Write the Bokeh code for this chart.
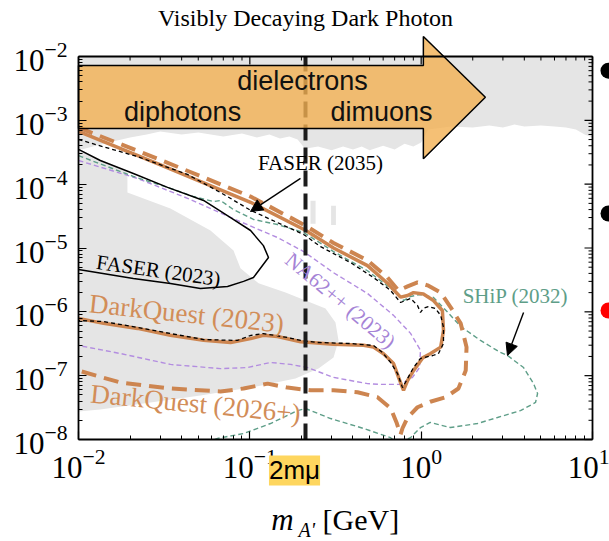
import math
from bokeh.plotting import figure
from bokeh.models import Range1d, Label, Arrow, NormalHead, FixedTicker
from bokeh.embed import file_html
from bokeh.resources import INLINE
from bokeh.core.properties import value

# ---------------- data (m_A' in GeV, epsilon) ----------------
dq23_m = [0.01, 0.0301, 0.101, 0.211, 0.308, 0.486, 0.636, 0.758, 0.833, 0.902, 1.03, 1.18, 1.33, 1.35, 1.30,
          1.13, 1.02, 0.902, 0.833, 0.789, 0.738, 0.690, 0.603, 0.527, 0.461, 0.308, 0.198, 0.145, 0.120, 0.101,
          0.0772, 0.0537, 0.0344, 0.0221, 0.0140, 0.01]
dq23_e = [6.7e-4, 2.0e-4, 5.2e-5, 1.9e-5, 1.0e-5, 5.3e-6, 2.8e-6, 1.7e-6, 1.8e-6, 2.0e-6, 1.9e-6, 1.5e-6, 1.05e-6,
          5.1e-7, 2.8e-7, 2.2e-7, 1.9e-7, 1.2e-7, 8.4e-8, 5.9e-8, 9.4e-8, 1.55e-7, 2.2e-7, 2.8e-7, 3.0e-7, 3.1e-7,
          3.4e-7, 4.1e-7, 4.3e-7, 3.8e-7, 3.3e-7, 3.6e-7, 4.3e-7, 5.5e-7, 6.6e-7, 7.9e-7]

dq26_m = [0.01, 0.0301, 0.101, 0.211, 0.308, 0.486, 0.636, 0.738, 0.833, 0.952, 1.09, 1.30, 1.48, 1.70, 1.84,
          1.82, 1.65, 1.39, 1.13, 0.952, 0.833, 0.778, 0.758, 0.718, 0.663, 0.556, 0.425, 0.308, 0.226, 0.166,
          0.127, 0.0919, 0.0674, 0.0344, 0.0176, 0.01]
dq26_e = [7.7e-4, 2.4e-4, 6.4e-5, 2.25e-5, 1.2e-5, 6.4e-6, 3.45e-6, 2.16e-6, 2.5e-6, 2.9e-6, 2.6e-6, 2.0e-6,
          1.2e-6, 6.6e-7, 2.8e-7, 1.2e-7, 6.3e-8, 4.6e-8, 3.9e-8, 3.2e-8, 2.2e-8, 1.5e-8, 1.2e-8, 1.85e-8,
          3.1e-8, 4.6e-8, 5.5e-8, 5.9e-8, 5.9e-8, 6.5e-8, 7.5e-8, 6.3e-8, 5.65e-8, 6.3e-8, 7.8e-8, 1.2e-7]

faser35_m = [0.01, 0.0221, 0.0433, 0.0674, 0.101, 0.145, 0.206, 0.259, 0.387, 0.527, 0.663, 0.758, 0.867, 0.952,
             0.991, 1.03, 1.10, 1.21, 1.30, 1.35, 1.35, 1.26, 1.17, 0.991, 0.902, 0.833, 0.778, 0.728, 0.663,
             0.595, 0.527, 0.387, 0.248, 0.198, 0.166, 0.120, 0.101, 0.0847, 0.0537, 0.0344, 0.0221, 0.0140, 0.01]
faser35_e = [5.0e-4, 2.7e-4, 1.42e-4, 7.4e-5, 3.9e-5, 2.5e-5, 1.63e-5, 1.05e-5, 5.9e-6, 3.45e-6, 2.16e-6,
             1.40e-6, 1.62e-6, 1.26e-6, 9.8e-7, 1.13e-6, 1.21e-6, 1.13e-6, 8.8e-7, 5.7e-7, 3.2e-7, 2.2e-7,
             2.07e-7, 1.86e-7, 1.34e-7, 9.0e-8, 6.5e-8, 1.08e-7, 1.61e-7, 2.3e-7, 2.97e-7, 3.19e-7, 3.31e-7,
             3.56e-7, 3.96e-7, 4.57e-7, 4.26e-7, 3.56e-7, 3.68e-7, 4.57e-7, 5.7e-7, 7.05e-7, 7.3e-7]

# SHiP contour (it dips below epsilon = 1e-8, so it is split at the lower edge)
ship_m = [0.01, 0.0209, 0.0331, 0.0469, 0.0614, 0.0674, 0.0803, 0.105, 0.145, 0.206, 0.308, 0.486, 0.690, 0.789,
          0.867, 0.991, 1.18, 1.43, 1.70, 2.22, 2.90, 3.19, 3.96, 4.53, 4.78, 4.65, 3.80, 2.79, 2.13, 1.48, 1.13,
          0.991, 0.867, 0.82]
ship_e = [2.8e-4, 1.32e-4, 8.9e-5, 6.4e-5, 5.35e-5, 5.55e-5, 4.0e-5, 2.8e-5, 2.33e-5, 1.75e-5, 8.8e-6, 4.4e-6,
          2.16e-6, 1.50e-6, 1.74e-6, 1.87e-6, 1.68e-6, 9.8e-7, 5.9e-7, 3.56e-7, 2.31e-7, 2.07e-7, 1.34e-7, 7.5e-8,
          5.25e-8, 3.8e-8, 2.84e-8, 2.21e-8, 1.78e-8, 1.54e-8, 1.85e-8, 1.54e-8, 1.07e-8, 1.0e-8]
ship_low_m = [0.68, 0.663, 0.461, 0.296, 0.211, 0.190, 0.132, 0.0919, 0.0648, 0.062]
ship_low_e = [1.0e-8, 1.07e-8, 1.49e-8, 2.13e-8, 3.06e-8, 2.84e-8, 1.78e-8, 1.24e-8, 1.04e-8, 1.0e-8]

na62_m = [0.01, 0.0221, 0.0433, 0.0847, 0.145, 0.206, 0.308, 0.486, 0.690, 0.867, 0.991, 0.978, 0.890, 0.758,
          0.579, 0.486, 0.308, 0.217, 0.173, 0.132, 0.0969, 0.0674, 0.0344, 0.0176, 0.01]
na62_e = [2.35e-4, 1.23e-4, 6.0e-5, 2.7e-5, 1.46e-5, 8.8e-6, 4.1e-6, 1.94e-6, 8.8e-7, 4.6e-7, 2.5e-7, 1.34e-7,
          9.4e-8, 7.3e-8, 7.3e-8, 7.5e-8, 9.4e-8, 1.34e-7, 1.50e-7, 1.61e-7, 1.34e-7, 1.29e-7, 1.50e-7, 2.22e-7,
          2.97e-7]

faser23_m = [0.01, 0.0134, 0.0209, 0.0331, 0.0537, 0.0772, 0.101, 0.120, 0.1285, 0.105, 0.0919, 0.0741, 0.0515,
             0.0344, 0.0209, 0.01]
faser23_e = [3.5e-4, 2.35e-4, 1.47e-4, 8.9e-5, 5.55e-5, 3.0e-5, 1.88e-5, 1.09e-5, 7.1e-6, 3.45e-6, 3.0e-6,
             2.49e-6, 2.32e-6, 2.78e-6, 3.33e-6, 4.6e-6]

# existing constraints (grey)
grey_top_m = [0.01, 10, 10, 9, 8, 7, 6, 5, 4, 3.5, 3, 2.5, 2, 1.5, 1.1, 1.0, 0.9, 0.8, 0.7, 0.6, 0.5, 0.45, 0.4,
              0.35, 0.3, 0.25, 0.21, 0.19, 0.17, 0.15, 0.13, 0.11, 0.09, 0.07, 0.05, 0.04, 0.03, 0.025, 0.02,
              0.015, 0.01]
grey_top_e = [1e-2, 1e-2, 5.4e-4, 6.0e-4, 7.2e-4, 7.7e-4, 8.0e-4, 8.3e-4, 8.0e-4, 8.6e-4, 7.7e-4, 8.3e-4, 7.7e-4,
              8.0e-4, 7.2e-4, 4.5e-4, 3.9e-4, 4.3e-4, 3.5e-4, 4.0e-4, 3.4e-4, 3.9e-4, 3.5e-4, 3.9e-4, 3.4e-4,
              3.9e-4, 3.6e-4, 5.0e-4, 5.6e-4, 5.2e-4, 6.0e-4, 5.4e-4, 6.2e-4, 5.6e-4, 6.45e-4, 6.0e-4, 6.7e-4,
              6.0e-4, 5.4e-4, 4.5e-4, 3.4e-4]
grey_low_m = [0.01, 0.0193, 0.0193, 0.0344, 0.0589, 0.0803, 0.0882, 0.1124, 0.1616, 0.2113, 0.2765, 0.3162,
              0.3293, 0.308, 0.2517, 0.1848, 0.1009, 0.0515, 0.0263, 0.0134, 0.01]
grey_low_e = [3.6e-4, 1.52e-4, 7.4e-5, 4.16e-5, 1.88e-5, 9.1e-6, 4.8e-6, 2.8e-6, 2.0e-6, 1.5e-6, 1.13e-6, 6.8e-7,
              3.56e-7, 1.92e-7, 1.29e-7, 9.0e-8, 6.5e-8, 4.9e-8, 3.8e-8, 2.95e-8, 2.74e-8]
grey_bit1_m = [0.226, 0.242, 0.242, 0.226]
grey_bit1_e = [5.5e-5, 5.5e-5, 2.4e-5, 2.4e-5]
grey_bit2_m = [0.298, 0.318, 0.318, 0.298]
grey_bit2_e = [4.6e-5, 4.6e-5, 2.3e-5, 2.3e-5]

# decay-channel arrow
arrow_m = [0.01, 1.03, 1.03, 2.37, 1.03, 1.03, 0.01]
arrow_e = [7.2e-3, 7.2e-3, 2.06e-2, 2.3e-3, 2.5e-4, 7.45e-4, 7.45e-4]

two_m_mu = 0.2113
x_major = [1e-2, 1e-1, 1e0, 1e1]
y_major = [1e-8, 1e-7, 1e-6, 1e-5, 1e-4, 1e-3, 1e-2]

# legend bullets, cut by the right edge of the image
bullet_m = [12.4, 12.4, 12.4]
bullet_e = [6.0e-3, 3.47e-5, 1.05e-6]
bullet_c = ["black", "black", "#ff0000"]

# ---------------- styling / layout ----------------
SERIF = "Liberation Serif"
SANS = "Liberation Sans"
ORANGE = "#cd8550"
ORANGE_T = "#d28d58"
PURPLE = "#b38de0"
PURPLE_T = "#a583d6"
TEAL = "#5e9e88"
GREY = "#e5e5e5"

W, H = 609, 541
AX_LEFT, AX_RIGHT, AX_TOP, AX_BOTTOM = 78, 592, 56, 439   # axes box in pixels
PPD_X = (AX_RIGHT - AX_LEFT) / 3.0
PPD_Y = (AX_BOTTOM - AX_TOP) / 6.0
x_lo = 10 ** (-2 - AX_LEFT / PPD_X)
x_hi = 10 ** (1 + (W - AX_RIGHT) / PPD_X)
y_lo = 10 ** (-8 - (H - AX_BOTTOM) / PPD_Y)
y_hi = 10 ** (-2 + AX_TOP / PPD_Y)

p = figure(width=W, height=H, x_axis_type="log", y_axis_type="log",
           x_range=Range1d(x_lo, x_hi), y_range=Range1d(y_lo, y_hi),
           output_backend="svg", toolbar_location=None, title=None,
           min_border_left=0, min_border_right=0, min_border_top=0, min_border_bottom=0)
p.outline_line_color = None
p.grid.visible = False
p.background_fill_color = "white"
p.border_fill_color = "white"

def minors(lo, hi):
    return [j * 10.0 ** k for k in range(lo, hi) for j in range(2, 10)]

def style_axis(ax):
    ax.major_tick_in = 8
    ax.major_tick_out = 0
    ax.minor_tick_in = 4
    ax.minor_tick_out = 0
    ax.axis_line_width = 1.8
    ax.axis_line_color = "black"
    ax.major_tick_line_width = 1.2
    ax.minor_tick_line_width = 1.0
    ax.major_tick_line_color = "black"
    ax.minor_tick_line_color = "black"
    ax.major_label_text_font = SERIF
    ax.major_label_text_font_style = "normal"
    ax.major_label_text_color = "black"
    ax.major_label_text_font_size = "31px"
    ax.major_label_standoff = 9

xa = p.xaxis[0]
xa.ticker = FixedTicker(ticks=x_major, minor_ticks=minors(-2, 1))
xa.fixed_location = 1e-8
xa.bounds = (1e-2, 10)
style_axis(xa)
ya = p.yaxis[0]
ya.ticker = FixedTicker(ticks=y_major, minor_ticks=minors(-8, -2))
ya.fixed_location = 1e-2
ya.bounds = (1e-8, 1e-2)
style_axis(ya)
ya.major_label_standoff = 11

# ---------------- grey excluded regions ----------------
for gm, ge in [(grey_top_m, grey_top_e), (grey_low_m, grey_low_e),
               (grey_bit1_m, grey_bit1_e), (grey_bit2_m, grey_bit2_e)]:
    p.patch(gm, ge, fill_color=GREY, line_color=None)

# ---------------- sensitivity curves ----------------
p.line(na62_m, na62_e, line_color=PURPLE, line_width=1.4, line_dash="5 3")
p.line(ship_m, ship_e, line_color=TEAL, line_width=1.4, line_dash="5 3")
p.line(ship_low_m, ship_low_e, line_color=TEAL, line_width=1.4, line_dash="5 3")
p.line(faser23_m, faser23_e, line_color="black", line_width=1.5)
p.line(dq26_m, dq26_e, line_color=ORANGE, line_width=4, line_dash="15 8")
p.line(dq23_m, dq23_e, line_color=ORANGE, line_width=3.5)
p.line(faser35_m, faser35_e, line_color="black", line_width=1.3, line_dash="4 3")

# 2 m_mu threshold
p.segment(x0=[two_m_mu], y0=[1e-8], x1=[two_m_mu], y1=[1e-2], line_color="#1c1c1c",
          line_width=4, line_dash="16 7")

# decay-channel arrow
p.patch(arrow_m, arrow_e, fill_color="#f3b052", fill_alpha=0.8, line_color="black", line_width=1.5)

# top and right frame edges with inward ticks
mn_x = minors(-2, 1)
mn_y = minors(-8, -2)
p.segment(x0=x_major, y0=[1e-2] * 4, x1=x_major, y1=[1e-2 * 10 ** (-8 / PPD_Y)] * 4,
          line_color="black", line_width=1.2)
p.segment(x0=mn_x, y0=[1e-2] * len(mn_x), x1=mn_x, y1=[1e-2 * 10 ** (-4 / PPD_Y)] * len(mn_x),
          line_color="black", line_width=1.0)
p.segment(x0=[10] * len(y_major), y0=y_major, x1=[10 * 10 ** (-8 / PPD_X)] * len(y_major), y1=y_major,
          line_color="black", line_width=1.2)
p.segment(x0=[10] * len(mn_y), y0=mn_y, x1=[10 * 10 ** (-4 / PPD_X)] * len(mn_y), y1=mn_y,
          line_color="black", line_width=1.0)
p.segment(x0=[1e-2, 10], y0=[1e-2, 1e-8], x1=[10, 10], y1=[1e-2, 1e-2], line_color="black", line_width=1.8)

# legend bullets at the right edge
p.scatter(bullet_m, bullet_e, size=16, color=bullet_c, line_color=None)

# ---------------- annotations ----------------
def lab(x, y, text, size, color="black", font=SERIF, angle=0.0, align="center", baseline="middle",
        style="normal", **kw):
    p.add_layout(Label(x=x, y=y, text=text, text_font=font, text_font_size=size, text_color=color,
                       text_align=align, text_baseline=baseline, angle=math.radians(angle),
                       text_font_style=style, **kw))

lab(0.2113, 0.0394, "Visibly Decaying Dark Photon", "24px")
lab(0.203, 4.2e-3, "dielectrons", "27px", font=SANS, color="#111111")
lab(0.0405, 1.33e-3, "diphotons", "27px", font=SANS, color="#111111")
lab(0.587, 1.33e-3, "dimuons", "27px", font=SANS, color="#111111")

lab(0.2585, 2.11e-4, "FASER (2035)", "21px")
lab(0.0293, 4.44e-6, "FASER (2023)", "21px", angle=-8)
lab(0.338, 1.5e-6, "NA62++ (2023)", "21px", color=PURPLE_T, angle=-40)
lab(0.0427, 9.4e-7, "DarkQuest (2023)", "27px", color=ORANGE_T, angle=-6)
lab(0.0482, 3.66e-8, "DarkQuest (2026+)", "27px", color=ORANGE_T, angle=-5.5)
lab(3.55, 1.8e-6, "SHiP (2032)", "21px", color=TEAL)

p.add_layout(Arrow(end=NormalHead(size=12, fill_color="black", line_color="black"),
                   x_start=0.1976, y_start=1.23e-4, x_end=0.1009, y_end=3.73e-5,
                   line_color="black", line_width=1.4))
p.add_layout(Arrow(end=NormalHead(size=12, fill_color="black", line_color="black"),
                   x_start=3.96, y_start=9.8e-7, x_end=3.19, y_end=2.07e-7,
                   line_color="black", line_width=1.4))

# 2 m_mu marker below the axis
lab(0.1823, 3.27e-9, "2mμ", "26px", font=SANS, color="black", background_fill_color="#fed65f")

# x-axis title m_{A'} [GeV]
lab(0.1551, 5.6e-10, "m", "31px", style="italic")
lab(0.1923, 3.8e-10, "A'", "20px", style="italic", align="left")
lab(0.2656, 5.6e-10, "[GeV]", "30px", align="left")

open("out.html", "w").write(file_html(p, INLINE))
